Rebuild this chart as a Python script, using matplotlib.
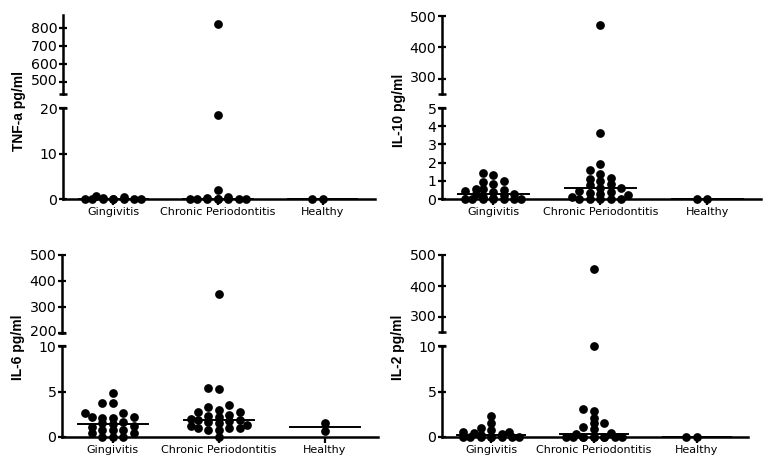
import matplotlib.pyplot as plt
import matplotlib.transforms as mtransforms
import numpy as np

categories = ["Gingivitis", "Chronic Periodontitis", "Healthy"]

# TNF-a (pg/ml)
tnf_gingivitis = [0.6, 0.4, 0.3, 0, 0, 0, 0, 0, 0, 0, 0]
tnf_chronic = [822, 18.5, 2.0, 0.5, 0.3, 0, 0, 0, 0, 0, 0, 0, 0]
tnf_healthy = [0, 0]

# IL-10 (pg/ml)
il10_gingivitis = [1.3, 1.45, 0.95, 1.0, 0.8, 0.5, 0.55, 0.55, 0.4, 0.45, 0.3,
                   0.25, 0.2, 0.1, 0.05, 0, 0, 0, 0, 0, 0, 0]
il10_chronic = [470, 3.6, 1.95, 1.6, 1.35, 1.15, 1.1, 1.0, 0.85, 0.75, 0.6, 0.6,
                0.45, 0.4, 0.35, 0.3, 0.2, 0.1, 0, 0, 0, 0, 0]
il10_healthy = [0, 0]

# IL-6 (pg/ml)
il6_gingivitis = [4.8, 3.7, 3.7, 2.6, 2.6, 2.2, 2.2, 2.1, 2.1, 1.7, 1.5, 1.4,
                  1.2, 1.1, 0.8, 0.8, 0.8, 0.4, 0.4, 0, 0, 0]
il6_chronic = [350, 5.4, 5.3, 3.5, 3.3, 3.0, 2.7, 2.7, 2.4, 2.3, 2.2, 2.0, 1.9,
               1.9, 1.8, 1.6, 1.5, 1.3, 1.2, 1.0, 1.0, 1.0, 0.8, 0.8, 0]
il6_healthy = [0.7, 1.5]

# IL-2 (pg/ml)
il2_gingivitis = [2.3, 1.5, 1.0, 0.8, 0.5, 0.5, 0.4, 0.3, 0.2,
                  0, 0, 0, 0, 0, 0, 0, 0]
il2_chronic = [455, 10.0, 3.1, 2.9, 2.1, 1.5, 1.5, 1.1, 0.9, 0.4, 0.3,
               0, 0, 0, 0, 0, 0, 0, 0, 0, 0]
il2_healthy = [0, 0]

W, H = 773, 466
fig = plt.figure(figsize=(W / 100, H / 100), dpi=100)

# pixel boxes: x0, x1, lower (top, bottom), upper (top, bottom)
panels = [
    dict(label="TNF-a pg/ml", data=[tnf_gingivitis, tnf_chronic, tnf_healthy],
         lo=(0, 20), lo_ticks=[0, 10, 20], hi=(433, 872), hi_ticks=[500, 600, 700, 800],
         x=(63, 375), lo_px=(108, 199), hi_px=(15, 94), lab=(19, 111)),
    dict(label="IL-10 pg/ml", data=[il10_gingivitis, il10_chronic, il10_healthy],
         lo=(0, 5), lo_ticks=[0, 1, 2, 3, 4, 5], hi=(252, 500), hi_ticks=[300, 400, 500],
         x=(442, 761), lo_px=(108, 199), hi_px=(16, 94), lab=(399, 110)),
    dict(label="IL-6 pg/ml", data=[il6_gingivitis, il6_chronic, il6_healthy],
         lo=(0, 10), lo_ticks=[0, 5, 10], hi=(200, 500), hi_ticks=[200, 300, 400, 500],
         x=(62, 378), lo_px=(346, 437), hi_px=(255, 333), lab=(18, 347)),
    dict(label="IL-2 pg/ml", data=[il2_gingivitis, il2_chronic, il2_healthy],
         lo=(0, 10), lo_ticks=[0, 5, 10], hi=(252, 500), hi_ticks=[300, 400, 500],
         x=(442, 748), lo_px=(346, 437), hi_px=(255, 332), lab=(398, 347)),
]

xlim = (-0.48, 2.5)
dot = 6.3  # marker diameter, points


def rect(x, ypx):
    return [x[0] / W, 1 - ypx[1] / H, (x[1] - x[0]) / W, (ypx[1] - ypx[0]) / H]


def style(ax):
    for s in ["top", "right"]:
        ax.spines[s].set_visible(False)
    for s in ["left", "bottom"]:
        ax.spines[s].set_linewidth(1.8)
    ax.tick_params(axis="y", direction="inout", length=6, width=1.6, pad=1,
                   labelsize=10.2)
    ax.tick_params(axis="x", direction="out", length=4, width=1.6, pad=2,
                   labelsize=8)


def swarm(ax_lo, ax_hi, split, xc, values, dx=10.5, rowdy=5.0, maxw=56):
    # scatter-dot layout: points closer than rowdy px vertically need dx px apart
    cands = np.arange(-maxw / 2, maxw / 2 + 0.1, 0.5)
    placed = []
    out = []
    for v in sorted(values):
        ax = ax_hi if v > split else ax_lo
        px, py = ax.transData.transform((xc, v))
        best = None
        for c in cands:
            pen = 0.0
            for qx, qy in placed:
                if abs(py - qy) < rowdy:
                    pen += max(0.0, dx - abs(px + c - qx))
            key = (round(pen, 3), abs(c))
            if best is None or key < best[0]:
                best = (key, c)
        c = best[1]
        placed.append((px + c, py))
        xd = ax.transData.inverted().transform((px + c, py))[0]
        out.append((xd, v, ax))
    return out


for p in panels:
    ax_lo = fig.add_axes(rect(p["x"], p["lo_px"]))
    ax_hi = fig.add_axes(rect(p["x"], p["hi_px"]))
    for ax in (ax_lo, ax_hi):
        style(ax)
        ax.set_xlim(xlim)
    ax_lo.set_ylim(p["lo"])
    ax_hi.set_ylim(p["hi"])
    ax_lo.set_yticks(p["lo_ticks"])
    ax_hi.set_yticks(p["hi_ticks"])
    ax_hi.spines["bottom"].set_visible(False)
    ax_hi.set_xticks([])
    ax_lo.set_xticks(range(len(categories)))
    ax_lo.set_xticklabels(categories)

    # keep the two labels at the break apart
    lbl = ax_hi.get_yticklabels()[0]
    lbl.set_transform(lbl.get_transform() +
                      mtransforms.ScaledTranslation(0, 2 / 100, fig.dpi_scale_trans))
    lbl = ax_lo.get_yticklabels()[-1]
    lbl.set_transform(lbl.get_transform() +
                      mtransforms.ScaledTranslation(0, -1 / 100, fig.dpi_scale_trans))

    # break caps
    cap = 4 / (p["x"][1] - p["x"][0])
    ax_hi.plot([-cap, cap], [0, 0], transform=ax_hi.transAxes, color="black",
               lw=1.8, clip_on=False, solid_capstyle="butt")
    ax_lo.plot([-cap, cap], [1, 1], transform=ax_lo.transAxes, color="black",
               lw=1.8, clip_on=False, solid_capstyle="butt")

    for i, vals in enumerate(p["data"]):
        for xd, v, ax in swarm(ax_lo, ax_hi, p["lo"][1], i, vals):
            ax.plot(xd, v, "o", color="black", ms=dot, mec="none", clip_on=False)
        m = np.median(vals)
        ax_lo.plot([i - 0.33, i + 0.33], [m, m], color="black", lw=1.4,
                   clip_on=False)

    fig.text(p["lab"][0] / W, 1 - p["lab"][1] / H, p["label"], rotation=90,
             ha="center", va="center", fontsize=10, fontweight="bold",
             family="Liberation Sans")

fig.savefig("out.png", dpi=100)
